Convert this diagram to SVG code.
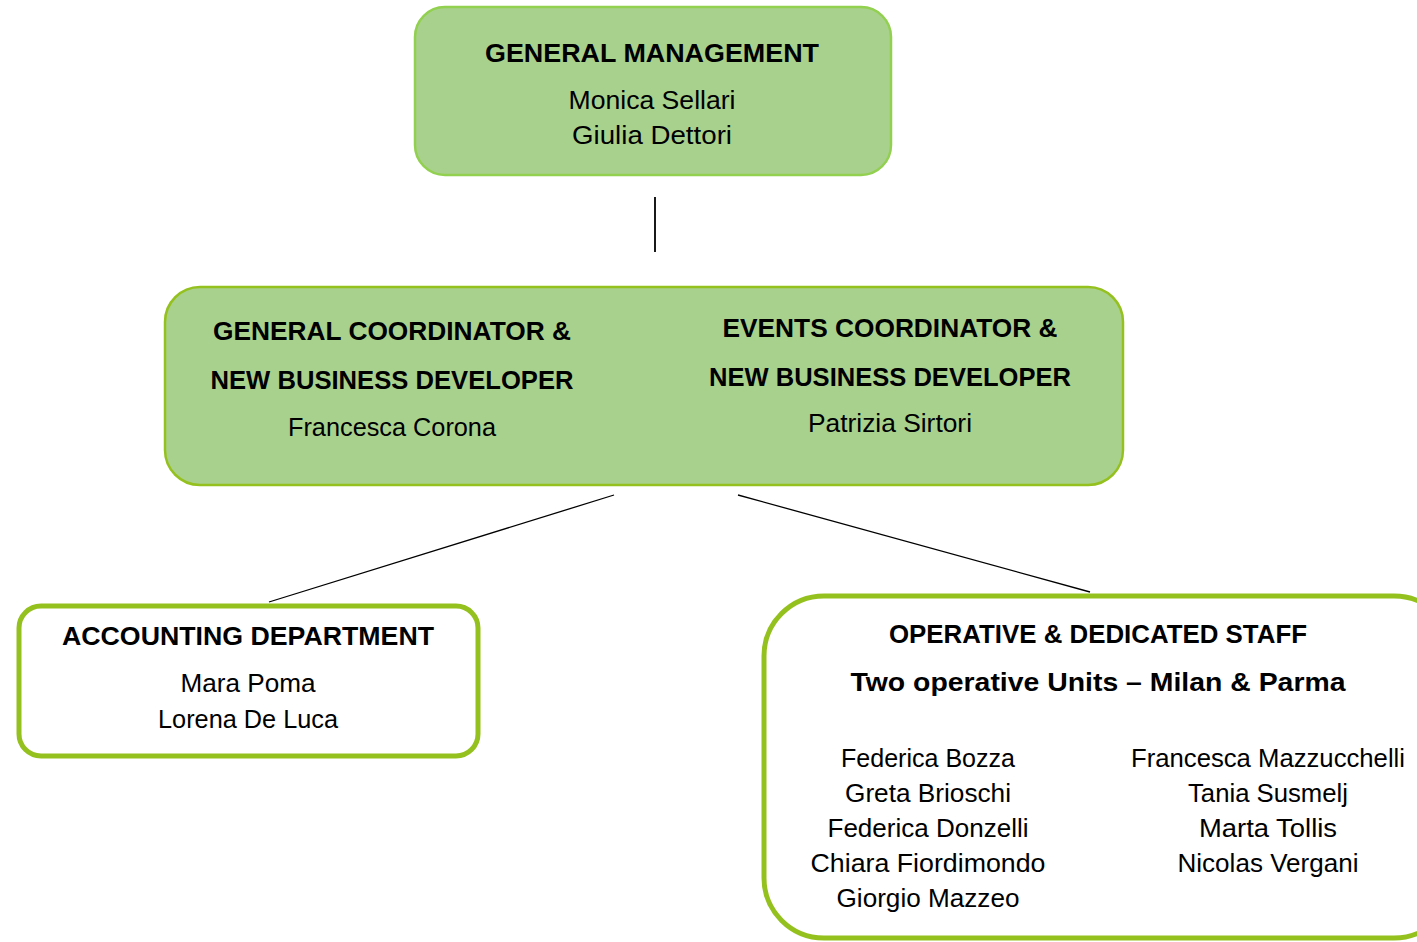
<svg xmlns="http://www.w3.org/2000/svg" width="1417" height="942" viewBox="0 0 1417 942">
<style>
.t{font-family:"Liberation Sans",Arial,sans-serif;fill:#000;text-anchor:middle}
.b{font-weight:bold;font-size:25px}
.n{font-size:25px}
.fill{fill:#A9D18E}
.w{fill:#fff;stroke:#95C11F;stroke-width:5}
.c{stroke:#000;stroke-width:1.3;fill:none}
</style>
<rect width="1417" height="942" fill="#fff"/>
<g id="connectors">
<line class="c" x1="655" y1="197" x2="655" y2="252" style="stroke-width:1.8"/>
<line class="c" x1="614" y1="495" x2="269" y2="602"/>
<line class="c" x1="738" y1="495" x2="1090" y2="592"/>
</g>
<g id="general-management">
<rect class="fill" x="415" y="7" width="476" height="168" rx="30" stroke="#92D050" stroke-width="2.5"/>
<text class="t b" x="652" y="62" textLength="334" lengthAdjust="spacingAndGlyphs">GENERAL MANAGEMENT</text>
<text class="t n" x="652" y="109" textLength="167" lengthAdjust="spacingAndGlyphs">Monica Sellari</text>
<text class="t n" x="652" y="144" textLength="160" lengthAdjust="spacingAndGlyphs">Giulia Dettori</text>
</g>
<g id="coordinators">
<rect class="fill" x="165" y="287" width="958" height="198" rx="35" stroke="#95C11F" stroke-width="2.5"/>
<text class="t b" x="392" y="340" textLength="358" lengthAdjust="spacingAndGlyphs">GENERAL COORDINATOR &amp;</text>
<text class="t b" x="392" y="389" textLength="363" lengthAdjust="spacingAndGlyphs">NEW BUSINESS DEVELOPER</text>
<text class="t n" x="392" y="436" textLength="208" lengthAdjust="spacingAndGlyphs">Francesca Corona</text>
<text class="t b" x="890" y="337" textLength="335" lengthAdjust="spacingAndGlyphs">EVENTS COORDINATOR &amp;</text>
<text class="t b" x="890" y="386" textLength="362" lengthAdjust="spacingAndGlyphs">NEW BUSINESS DEVELOPER</text>
<text class="t n" x="890" y="432" textLength="164" lengthAdjust="spacingAndGlyphs">Patrizia Sirtori</text>
</g>
<g id="accounting">
<rect class="w" x="19" y="606" width="459" height="150" rx="22"/>
<text class="t b" x="248" y="645" textLength="372" lengthAdjust="spacingAndGlyphs">ACCOUNTING DEPARTMENT</text>
<text class="t n" x="248" y="692" textLength="135" lengthAdjust="spacingAndGlyphs">Mara Poma</text>
<text class="t n" x="248" y="728" textLength="180" lengthAdjust="spacingAndGlyphs">Lorena De Luca</text>
</g>
<g id="operative">
<rect class="w" x="764" y="596" width="690" height="342" rx="60"/>
<text class="t b" x="1098" y="643" textLength="418" lengthAdjust="spacingAndGlyphs">OPERATIVE &amp; DEDICATED STAFF</text>
<text class="t b" x="1098" y="691" textLength="495" lengthAdjust="spacingAndGlyphs">Two operative Units – Milan &amp; Parma</text>
<text class="t n" x="928" y="767" textLength="174" lengthAdjust="spacingAndGlyphs">Federica Bozza</text>
<text class="t n" x="928" y="802" textLength="166" lengthAdjust="spacingAndGlyphs">Greta Brioschi</text>
<text class="t n" x="928" y="837" textLength="201" lengthAdjust="spacingAndGlyphs">Federica Donzelli</text>
<text class="t n" x="928" y="872" textLength="235" lengthAdjust="spacingAndGlyphs">Chiara Fiordimondo</text>
<text class="t n" x="928" y="907" textLength="183" lengthAdjust="spacingAndGlyphs">Giorgio Mazzeo</text>
<text class="t n" x="1268" y="767" textLength="274" lengthAdjust="spacingAndGlyphs">Francesca Mazzucchelli</text>
<text class="t n" x="1268" y="802" textLength="160" lengthAdjust="spacingAndGlyphs">Tania Susmelj</text>
<text class="t n" x="1268" y="837" textLength="138" lengthAdjust="spacingAndGlyphs">Marta Tollis</text>
<text class="t n" x="1268" y="872" textLength="181" lengthAdjust="spacingAndGlyphs">Nicolas Vergani</text>
</g>
</svg>
